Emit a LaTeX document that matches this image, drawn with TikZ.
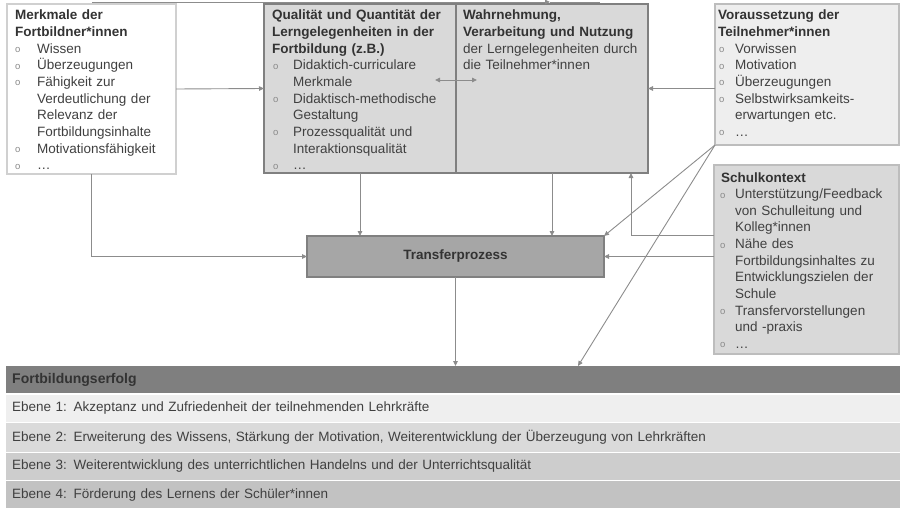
\documentclass[tikz,border=0pt]{standalone}
\usepackage{fontspec}
\setmainfont{Liberation Sans}
\usetikzlibrary{arrows.meta}
\definecolor{txt}{HTML}{404040}
\definecolor{ttl}{HTML}{333333}
\definecolor{bul}{HTML}{8A8A8A}
\definecolor{ln}{HTML}{8C8C8C}
\definecolor{bordL}{HTML}{D0D0D0}
\definecolor{bordD}{HTML}{808080}
\definecolor{bordM}{HTML}{BDBDBD}
\definecolor{fillM}{HTML}{D9D9D9}
\definecolor{fillL}{HTML}{EEEEEE}
\definecolor{fillT}{HTML}{A6A6A6}
\definecolor{hdr}{HTML}{7F7F7F}
\definecolor{rowA}{HTML}{EFEFEF}
\definecolor{rowB}{HTML}{DADADA}
\definecolor{rowC}{HTML}{CDCDCD}
\definecolor{rowD}{HTML}{C2C2C2}
\newlength\bind
\newlength\boff
\newcommand\bodyfont{\fontsize{13.5}{16.65}\selectfont}
\newcommand{\ti}[1]{\noindent{\bfseries\color{ttl}#1}\par}
\newcommand{\bi}[1]{\hangindent=\bind\hangafter=1\noindent\makebox[\bind][l]{\hspace*{\boff}\raisebox{0.6pt}{\textcolor{bul}{\fontsize{9.5}{9.5}\selectfont o}}}#1\par}
\begin{document}
\begin{tikzpicture}[x=1pt,y=-1pt,
  conn/.style={draw=ln, line width=0.9pt},
  arr/.style={conn, -{Triangle[length=5pt,width=4.5pt]}},
  darr/.style={conn, {Triangle[length=5pt,width=4.5pt]}-{Triangle[length=5pt,width=4.5pt]}},
  boxw/.style={draw=#1, line width=1.6pt, anchor=north west, inner sep=0pt, outer sep=0pt},
  btext/.style={anchor=base west, inner sep=0pt, text width=#1, align=left, font=\bodyfont, text=txt},
  rowbox/.style={anchor=north west, inner xsep=6pt, inner ysep=0pt, text width=882pt, minimum width=894pt, align=left, font=\fontsize{13.5}{15}\selectfont, text=txt}
]
\useasboundingbox (0,0) rectangle (901,508);

% boxes
\node[boxw=bordL, fill=white, minimum width=169pt, minimum height=170pt] (mk) at (7,4) {};
\node[boxw=bordD, fill=fillM, minimum width=192pt, minimum height=169pt] (ql) at (264,4) {};
\node[boxw=bordD, fill=fillM, minimum width=192pt, minimum height=169pt] (wn) at (456,4) {};
\node[boxw=bordM, fill=fillL, minimum width=184pt, minimum height=141pt] (vs) at (715,4) {};
\node[boxw=bordM, fill=fillM, minimum width=185pt, minimum height=189pt] (sk) at (714,165) {};
\node[boxw=bordD, fill=fillT, minimum width=297pt, minimum height=41pt, font=\fontsize{13.5}{16}\selectfont\bfseries, text=ttl] (tp) at (307,236) {Transferprozess};

% box texts
\node[btext=158pt] (mkt) at (15,20) {\setlength\bind{22pt}\setlength\boff{0pt}%
\ti{Merkmale der\newline Fortbildner*innen}
\bi{Wissen}
\bi{Überzeugungen}
\bi{Fähigkeit zur\newline Verdeutlichung der\newline Relevanz der\newline Fortbildungsinhalte}
\bi{Motivationsfähigkeit}
\bi{…}};

\node[btext=182pt] (qlt) at (272,20) {\setlength\bind{21pt}\setlength\boff{1pt}%
\ti{Qualität und Quantität der\newline Lerngelegenheiten in der\newline Fortbildung (z.B.)}
\bi{Didaktich-curriculare\newline Merkmale}
\bi{Didaktisch-methodische\newline Gestaltung}
\bi{Prozessqualität und\newline Interaktionsqualität}
\bi{…}};

\node[btext=182pt] (wnt) at (463,20) {%
\ti{Wahrnehmung,\newline Verarbeitung und Nutzung}
\noindent der Lerngelegenheiten durch\newline die Teilnehmer*innen\par};

\node[btext=176pt] (vst) at (718,20) {\setlength\bind{17pt}\setlength\boff{1pt}%
\ti{Voraussetzung der\newline Teilnehmer*innen}
\bi{Vorwissen}
\bi{Motivation}
\bi{Überzeugungen}
\bi{Selbstwirksamkeits-\newline erwartungen etc.}
\bi{…}};

\node[btext=176pt] (skt) at (721,182) {\setlength\bind{14pt}\setlength\boff{-1pt}%
\ti{Schulkontext}
\bi{Unterstützung/Feedback\newline von Schulleitung und\newline Kolleg*innen}
\bi{Nähe des\newline Fortbildungsinhaltes zu\newline Entwicklungszielen der\newline Schule}
\bi{Transfervorstellungen\newline und -praxis}
\bi{…}};

% bottom table
\node[rowbox, fill=hdr, minimum height=27pt, font=\fontsize{14}{15}\selectfont\bfseries, text=ttl] (erf) at (6,366) {Fortbildungserfolg};
\node[rowbox, fill=rowA, minimum height=27pt] (e1) at (6,394.5) {Ebene 1: Akzeptanz und Zufriedenheit der teilnehmenden Lehrkräfte};
\node[rowbox, fill=rowB, minimum height=29pt] (e2) at (6,422.5) {Ebene 2: Erweiterung des Wissens, Stärkung der Motivation, Weiterentwicklung der Überzeugung von Lehrkräften};
\node[rowbox, fill=rowC, minimum height=27pt] (e3) at (6,452.5) {Ebene 3: Weiterentwicklung des unterrichtlichen Handelns und der Unterrichtsqualität};
\node[rowbox, fill=rowD, minimum height=27pt] (e4) at (6,481) {Ebene 4: Förderung des Lernens der Schüler*innen};

% helper coordinates
\coordinate (topA) at (92,2);
\coordinate (topM) at (550,2);
\coordinate (topB) at (600,2);
\coordinate (dA) at (435,80);
\coordinate (dB) at (477,80);
\coordinate (skA) at (714,235);
\coordinate (wnB) at (631,173);
\coordinate (erfB) at (578,366);

% connectors
\draw[arr] (topA) -- (topM);
\draw[conn] (topM) -- (topB);
\draw[arr] (mk.east) -- (ql.west);
\draw[arr] (mk.south) |- (tp.west);
\draw[arr] (ql.south) -- (ql.south |- tp.north);
\draw[arr] (wn.south) -- (wn.south |- tp.north);
\draw[arr] (vs.west |- wn.east) -- (wn.east);
\draw[darr] (dA) -- (dB);
\draw[arr] (vs.south west) -- (tp.north east);
\draw[arr] (vs.south west) -- (erfB);
\draw[arr] (skA) -| (wnB);
\draw[arr] (sk.west |- tp.east) -- (tp.east);
\draw[arr] (tp.south) -- (tp.south |- erf.north);
\end{tikzpicture}
\end{document}
